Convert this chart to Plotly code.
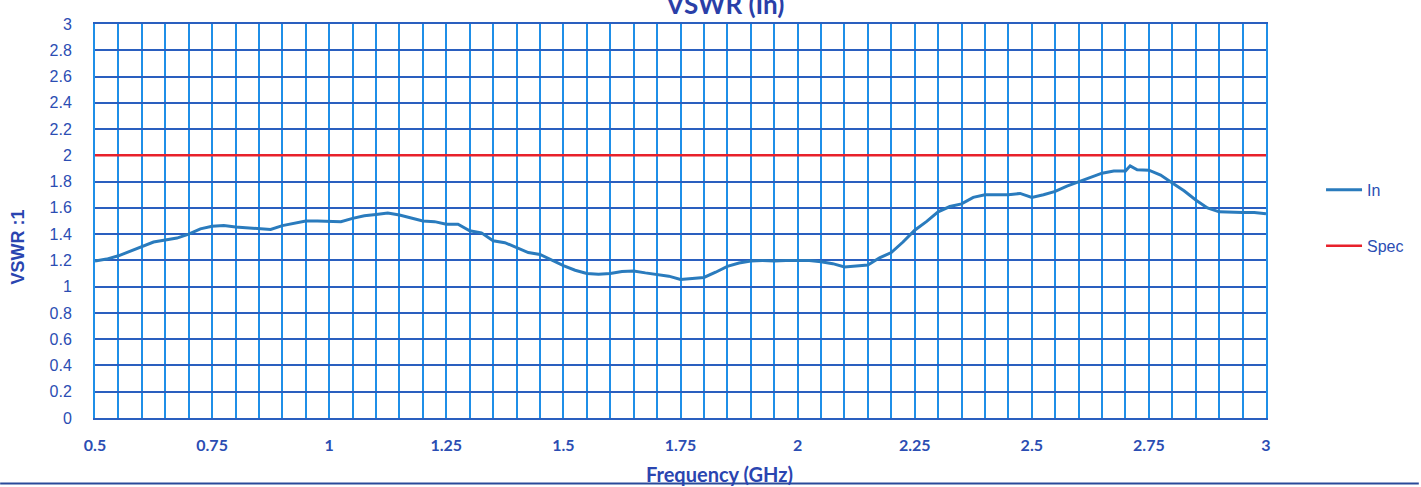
import plotly.graph_objects as go

freq_ghz = [0.5, 0.525, 0.55, 0.575, 0.6, 0.625, 0.65, 0.675, 0.7, 0.725, 0.75, 0.775, 0.8, 0.825, 0.85, 0.875,
            0.9, 0.925, 0.95, 0.975, 1.0, 1.025, 1.05, 1.075, 1.1, 1.125, 1.15, 1.175, 1.2, 1.225, 1.25, 1.275,
            1.3, 1.325, 1.35, 1.375, 1.4, 1.425, 1.45, 1.475, 1.5, 1.525, 1.55, 1.575, 1.6, 1.625, 1.65, 1.675,
            1.7, 1.725, 1.75, 1.775, 1.8, 1.825, 1.85, 1.875, 1.9, 1.925, 1.95, 1.975, 2.0, 2.025, 2.05, 2.075,
            2.1, 2.125, 2.15, 2.175, 2.2, 2.225, 2.25, 2.275, 2.3, 2.325, 2.35, 2.375, 2.4, 2.425, 2.45, 2.475,
            2.5, 2.525, 2.55, 2.575, 2.6, 2.625, 2.65, 2.675, 2.7, 2.71, 2.725, 2.75, 2.775, 2.8, 2.825, 2.85,
            2.875, 2.9, 2.925, 2.95, 2.975, 3.0]
vswr_in = [1.195, 1.21, 1.235, 1.27, 1.31, 1.34, 1.355, 1.37, 1.40, 1.44, 1.46, 1.465, 1.455, 1.45, 1.44, 1.435,
           1.465, 1.48, 1.50, 1.50, 1.50, 1.495, 1.52, 1.54, 1.55, 1.56, 1.545, 1.525, 1.50, 1.495, 1.475, 1.475,
           1.425, 1.41, 1.35, 1.335, 1.30, 1.26, 1.245, 1.20, 1.16, 1.125, 1.10, 1.095, 1.10, 1.115, 1.12, 1.105,
           1.09, 1.08, 1.055, 1.06, 1.07, 1.11, 1.155, 1.18, 1.195, 1.20, 1.195, 1.20, 1.20, 1.20, 1.19, 1.175,
           1.15, 1.155, 1.165, 1.22, 1.26, 1.34, 1.43, 1.495, 1.57, 1.61, 1.63, 1.68, 1.70, 1.70, 1.70, 1.71,
           1.68, 1.70, 1.725, 1.765, 1.80, 1.83, 1.864, 1.88, 1.88, 1.92, 1.89, 1.887, 1.85, 1.79, 1.73, 1.66,
           1.60, 1.57, 1.565, 1.565, 1.565, 1.555]
spec_freq = [0.5, 3.0]
spec_vswr = [2.0, 2.0]

title_text = "VSWR (In)"
x_title = "Frequency (GHz)"
y_title = "VSWR :1"

TXT = "#2b4db3"
VGRID = "#1f8fe8"
HGRID = "#2a5fbf"

fig = go.Figure()
fig.add_trace(go.Scatter(x=freq_ghz, y=vswr_in, mode="lines", name="In", legendgroup="a",
                         line=dict(color="#2a7bbd", width=3)))
fig.add_trace(go.Scatter(x=spec_freq, y=spec_vswr, mode="lines", name="Spec", legendgroup="b",
                         line=dict(color="#e8212b", width=2.5)))

fig.update_layout(
    width=1421, height=487,
    margin=dict(l=95, r=153, t=24, b=69),
    paper_bgcolor="white", plot_bgcolor="white",
    title=dict(text=title_text, x=0.5105, xanchor="center", y=0.99, yanchor="middle", yref="container",
               font=dict(family="Lato", size=26, color="#2a3fa8", weight="bold")),
    showlegend=True,
    legend=dict(x=1.047, y=0.622, xanchor="left", yanchor="top", traceorder="grouped", tracegroupgap=32,
                font=dict(family="Liberation Sans", size=16, color=TXT), itemwidth=36,
                bgcolor="rgba(0,0,0,0)"),
    xaxis=dict(range=[0.5, 3.0], tickmode="linear", tick0=0.5, dtick=0.25,
               showgrid=True, gridcolor=VGRID, gridwidth=2,
               minor=dict(tickmode="linear", tick0=0.5, dtick=0.05, showgrid=True, gridcolor=VGRID, gridwidth=2),
               showline=True, linecolor=HGRID, linewidth=2, mirror=True, zeroline=False,
               ticks="", ticklabelstandoff=12,
               tickfont=dict(family="Lato", size=16, color=TXT, weight="bold")),
    yaxis=dict(range=[0, 3.0], tickmode="linear", tick0=0, dtick=0.2,
               showgrid=True, gridcolor=HGRID, gridwidth=2,
               showline=True, linecolor=VGRID, linewidth=2, mirror=True, zeroline=False,
               ticks="", ticklabelstandoff=18,
               tickfont=dict(family="Liberation Sans", size=16, color=TXT)),
    annotations=[
        dict(text=x_title, xref="paper", yref="paper", x=0.533, y=-0.141, xanchor="center", yanchor="middle",
             showarrow=False, font=dict(family="Lato", size=20, color="#2a45b0", weight="bold")),
        dict(text=y_title, xref="paper", yref="paper", x=-0.0656, y=0.433, xanchor="center", yanchor="middle",
             textangle=-90, showarrow=False,
             font=dict(family="Liberation Sans", size=18, color="#2a45b0", weight="bold")),
    ],
    shapes=[dict(type="line", xref="paper", yref="paper", x0=-0.081, x1=1.1305, y0=-0.1662, y1=-0.1662,
                 line=dict(color="#2a4a9a", width=2))],
)

fig.write_html("out.html", config={"displayModeBar": False},
               post_script="document.body.style.margin='0';document.body.style.overflow='hidden';")
